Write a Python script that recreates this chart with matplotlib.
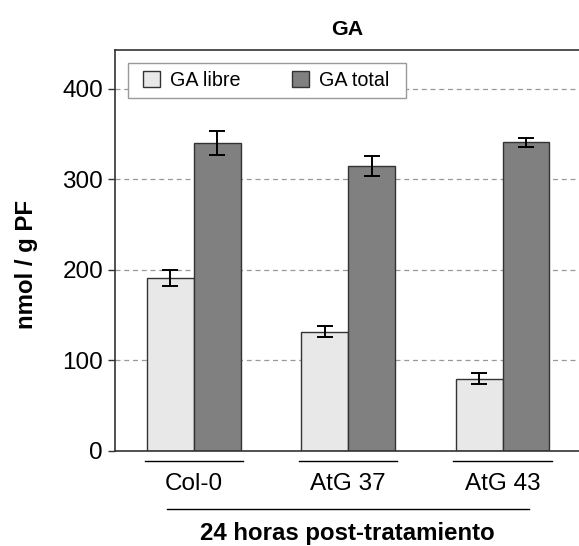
import matplotlib
matplotlib.use("Agg")
import matplotlib.pyplot as plt
import matplotlib.patches as mpatches
import matplotlib.transforms as mtransforms
import numpy as np

# -------------------------------
# Data
# -------------------------------
groups = ["Col-0", "AtG 37", "AtG 43"]
ga_libre = [191, 132, 80]
ga_libre_err = [9, 6, 6]
ga_total = [340, 315, 341]
ga_total_err = [13, 11, 5]
series_names = ["GA libre", "GA total"]


def main():
    plt.rcParams['font.family'] = ['Liberation Sans', 'DejaVu Sans']

    fig = plt.figure(figsize=(5.79, 5.46), dpi=100)
    ax = fig.add_axes([0.1986, 0.174, 0.8014, 0.7344])

    x = np.arange(len(groups)) * 0.99
    w = 0.30
    edge = "#333333"

    ax.bar(x - w / 2, ga_libre, w, color="#e8e8e8", edgecolor=edge,
           linewidth=1.0, label=series_names[0], zorder=2)
    ax.bar(x + w / 2, ga_total, w, color="#808080", edgecolor=edge,
           linewidth=1.0, label=series_names[1], zorder=2)
    ax.errorbar(x - w / 2, ga_libre, yerr=ga_libre_err, fmt="none",
                ecolor="black", elinewidth=1.4, capsize=5.5, capthick=1.4, zorder=3)
    ax.errorbar(x + w / 2, ga_total, yerr=ga_total_err, fmt="none",
                ecolor="black", elinewidth=1.4, capsize=5.5, capthick=1.4, zorder=3)

    # axes / grid
    ax.set_xlim(-0.505, 2.47)
    ax.set_ylim(0, 443)
    ax.set_yticks([0, 100, 200, 300, 400])
    ax.yaxis.grid(True, linestyle=(0, (4, 3)), color="#999999", linewidth=0.9)
    ax.set_axisbelow(True)
    for side in ["left", "top", "bottom"]:
        ax.spines[side].set_color("#333333")
        ax.spines[side].set_linewidth(1.2)
    ax.spines["right"].set_visible(False)
    ax.tick_params(axis="y", length=5, width=1.0, pad=3.6, labelsize=17.5,
                   color="#333333")
    ax.set_xticks(x)
    ax.set_xticklabels(groups, fontsize=17.5)
    ax.tick_params(axis="x", length=0, pad=15.5)

    # group underlines and outer line
    trans = mtransforms.blended_transform_factory(ax.transData, ax.transAxes)
    for xi in x:
        ax.plot([xi - w - 0.015, xi + w + 0.015], [-0.025, -0.025],
                color="black", linewidth=1.0, transform=trans, clip_on=False)
    ax.plot([x[0] - 0.17, x[-1] + 0.17], [-0.145, -0.145], color="black",
            linewidth=1.0, transform=trans, clip_on=False)

    ax.set_title("GA", fontsize=15.4, fontweight="bold", pad=11)
    ax.set_ylabel("nmol / g PF", fontsize=17.3, fontweight="bold")
    ax.yaxis.set_label_coords(-0.166, 0.465)
    ax.set_xlabel("24 horas post-tratamiento", fontsize=17.3, fontweight="bold",
                  labelpad=20)

    # legend without its own frame; a wider box is drawn around it below
    leg = ax.legend(loc="center left", bbox_to_anchor=(0.0603, 0.924), ncol=2,
                    fontsize=14.2, frameon=False,
                    handlelength=0.87, handleheight=0.87, columnspacing=2.6,
                    borderpad=0, handletextpad=0.5, borderaxespad=0)
    leg.set_zorder(6)

    fig.canvas.draw()
    bb = leg.get_window_extent().transformed(ax.transAxes.inverted())
    ax_w, ax_h = ax.bbox.width, ax.bbox.height
    cy = (bb.y0 + bb.y1) / 2
    x0 = bb.x0 - 15 / ax_w
    x1 = bb.x1 + 17 / ax_w
    half_h = 17.5 / ax_h
    frame = mpatches.Rectangle((x0, cy - half_h), x1 - x0, 2 * half_h,
                               transform=ax.transAxes, facecolor="white",
                               edgecolor="#999999", linewidth=1.0,
                               clip_on=False, zorder=5)
    ax.add_patch(frame)

    fig.savefig("out.png", dpi=100)


if __name__ == "__main__":
    main()
